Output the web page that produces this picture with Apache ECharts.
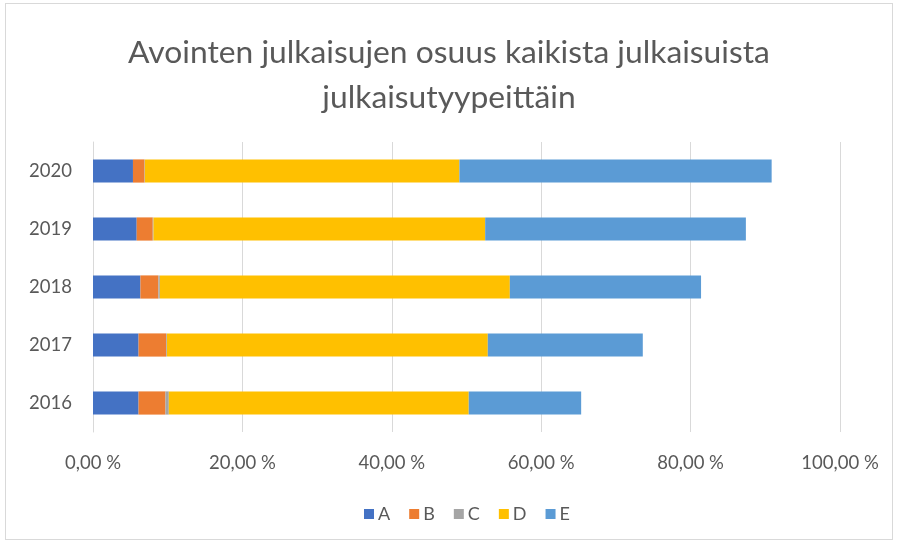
<!DOCTYPE html>
<html>
<head>
<meta charset="utf-8">
<script src="https://cdn.jsdelivr.net/npm/echarts@6/dist/echarts.min.js"></script>
<style>
  html, body { margin: 0; padding: 0; background: #fff; }
  #frame { position: absolute; left: 5px; top: 3px; width: 888px; height: 537px; border: 1px solid #d9d9d9; box-sizing: border-box; }
  #chart { position: absolute; left: 0; top: 0; width: 898px; height: 545px; }
</style>
</head>
<body>
<div id="frame"></div>
<div id="chart"></div>
<script>
const years = ['2016', '2017', '2018', '2019', '2020'];
const seriesNames = ['A', 'B', 'C', 'D', 'E'];
const valuesA = [6.1, 6.1, 6.35, 5.85, 5.35];
const valuesB = [3.6, 3.7, 2.4, 2.15, 1.55];
const valuesC = [0.45, 0.1, 0.2, 0.1, 0.05];
const valuesD = [40.15, 42.95, 46.85, 44.4, 42.1];
const valuesE = [15.05, 20.75, 25.6, 34.9, 41.8];
const colors = ['#4472C4', '#ED7D31', '#A5A5A5', '#FFC000', '#5B9BD5'];

const font = 'Lato, "Open Sans", sans-serif';
const allValues = [valuesA, valuesB, valuesC, valuesD, valuesE];

const chart = echarts.init(document.getElementById('chart'), null, { renderer: 'canvas' });
chart.setOption({
    animation: false,
    title: {
        text: 'Avointen julkaisujen osuus kaikista julkaisuista\njulkaisutyypeittäin',
        left: 'center',
        top: 25,
        textStyle: { fontFamily: font, fontSize: 31.8, fontWeight: 'normal', color: '#595959', lineHeight: 45 }
    },
    legend: {
        top: 500,
        left: 359,
        itemWidth: 10,
        itemHeight: 10,
        itemGap: 19,
        icon: 'rect',
        textStyle: { fontFamily: font, fontSize: 18, color: '#595959', padding: [0, 0, 0, -1] },
        data: seriesNames
    },
    grid: { left: 93, right: 58, top: 142, bottom: 113 },
    xAxis: {
        type: 'value',
        min: 0,
        max: 100,
        interval: 20,
        axisLine: { show: false },
        axisTick: { show: false },
        splitLine: { lineStyle: { color: '#d9d9d9' } },
        axisLabel: {
            fontFamily: font, fontSize: 18.5, color: '#595959', margin: 22,
            formatter: v => v.toFixed(2).replace('.', ',') + ' %'
        }
    },
    yAxis: {
        type: 'category',
        data: years,
        axisLine: { lineStyle: { color: '#d9d9d9' } },
        axisTick: { show: false },
        axisLabel: { fontFamily: font, fontSize: 18.5, color: '#595959', margin: 21 }
    },
    series: seriesNames.map((name, i) => ({
        name: name,
        type: 'bar',
        stack: 'total',
        barCategoryGap: '60%',
        itemStyle: { color: colors[i] },
        data: allValues[i]
    }))
});
</script>
</body>
</html>
